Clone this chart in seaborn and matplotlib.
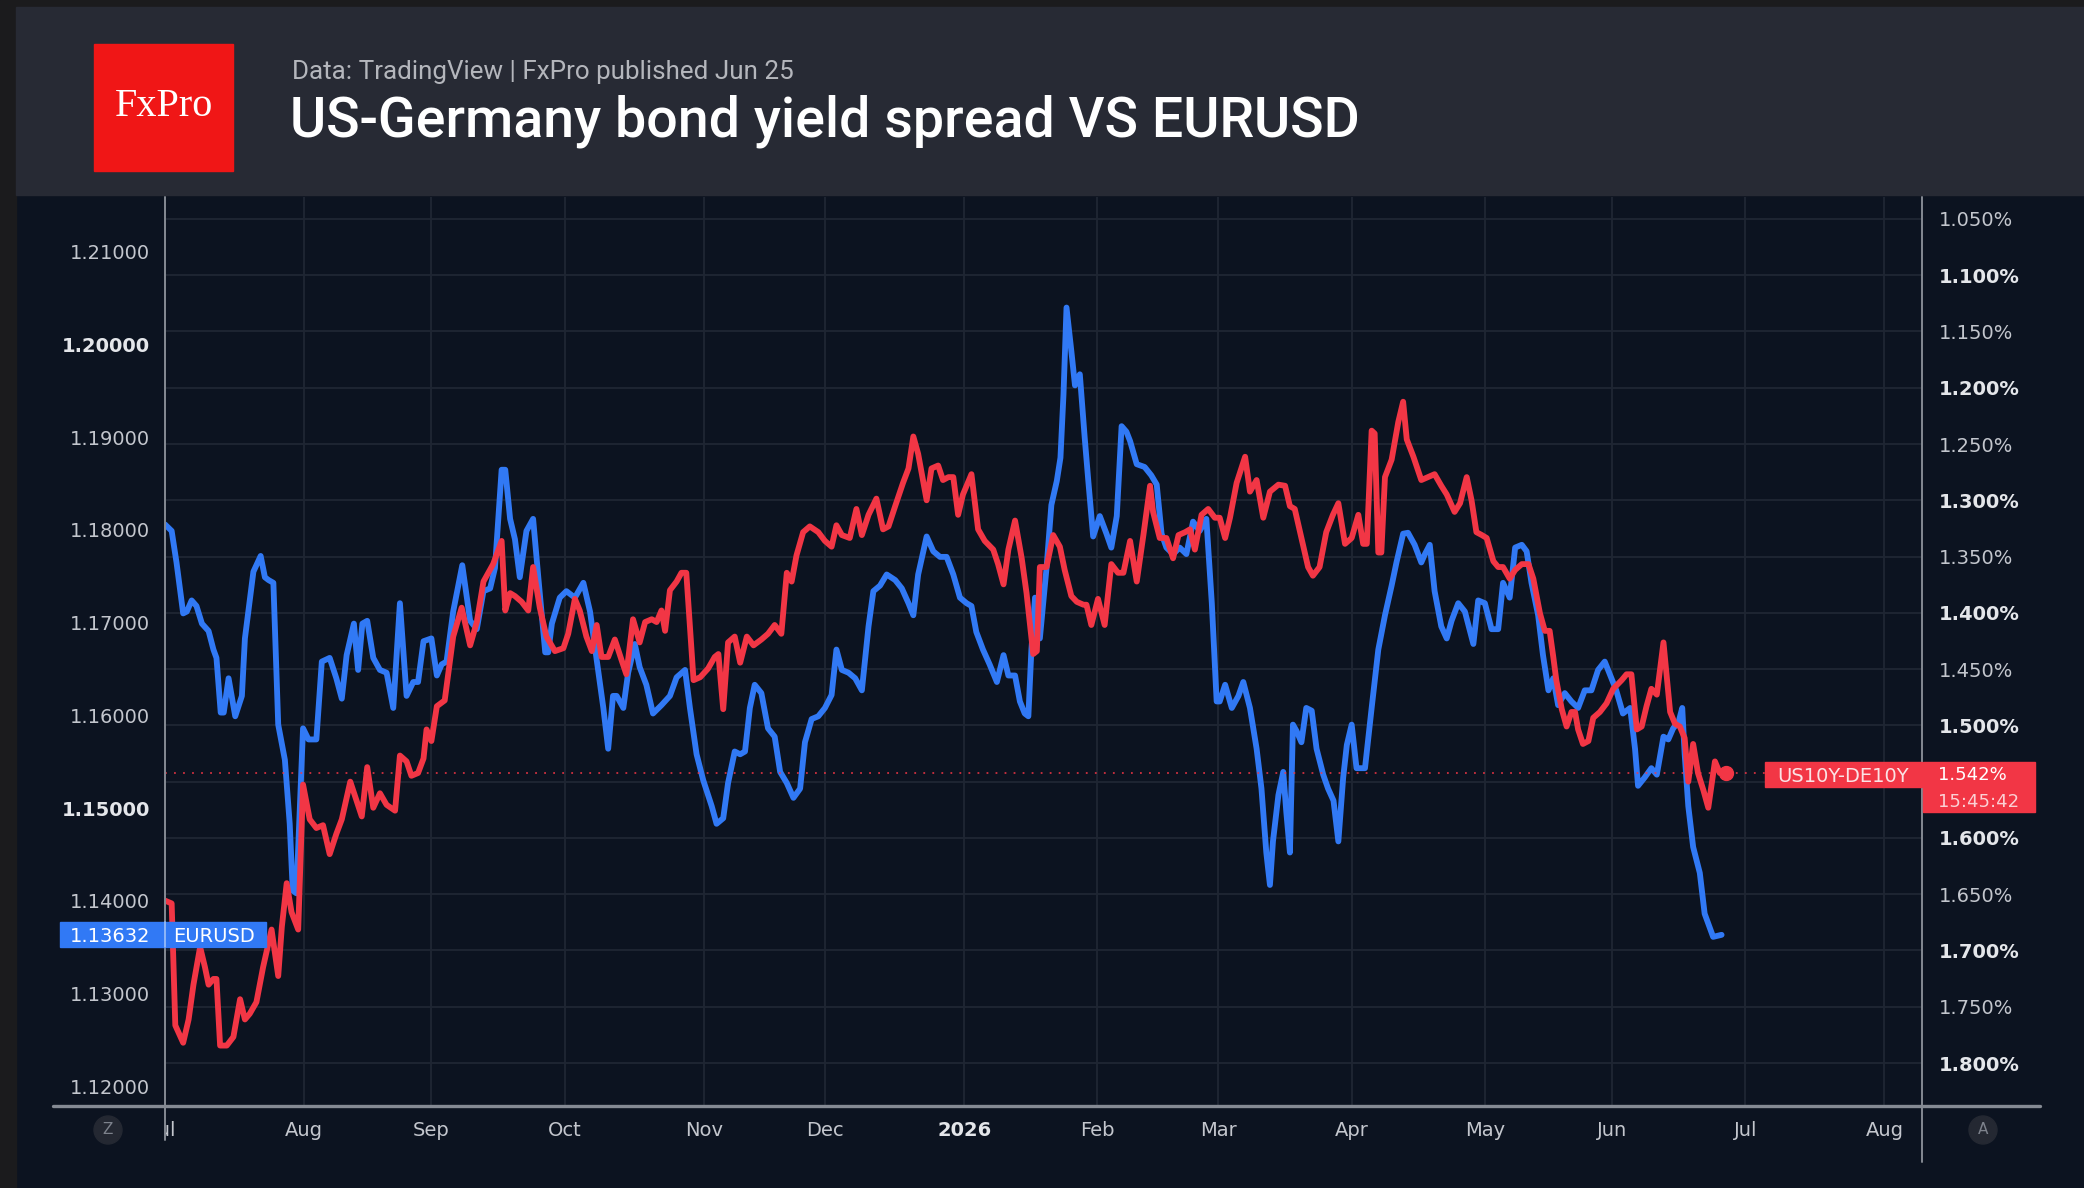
import numpy as np
import matplotlib
matplotlib.use("Agg")
import matplotlib.pyplot as plt
import seaborn as sns
from matplotlib.patches import Rectangle, Ellipse
from matplotlib.lines import Line2D
from matplotlib.transforms import Bbox, blended_transform_factory

# x = trading days counted from 1 Jul 2025
eur_day = [0.0, 1.1, 1.9, 3.0, 3.6, 4.4, 5.2, 6.1, 7.2, 8.0, 8.5, 9.2, 9.7, 10.5, 11.6, 12.7, 13.2,
           14.6, 15.8, 16.5, 17.1, 17.9, 18.7, 19.8, 20.6, 21.1, 21.7, 22.8, 23.7, 25.0, 25.9, 27.2,
           28.3, 29.2, 30.0, 31.2, 31.9, 32.6, 33.4, 34.4, 35.5, 36.6, 37.7, 38.8, 39.9, 41.0, 41.8,
           42.7, 44.0, 44.9, 45.7, 46.5, 47.6, 49.1, 50.4, 51.5, 52.6, 53.7, 54.5, 55.6, 56.2, 57.0,
           57.8, 58.6, 59.7, 60.8, 61.7, 62.8, 63.3, 63.9, 65.2, 66.3, 67.7, 69.1, 70.2, 71.6, 72.4,
           73.2, 74.0, 74.6, 75.7, 76.5, 77.6, 78.4, 79.5, 80.6, 82.0, 83.4, 84.5, 85.9, 86.7, 87.8,
           88.9, 90.3, 91.1, 92.2, 93.0, 94.1, 95.0, 95.8, 96.6, 97.4, 98.5, 99.6, 100.7, 101.6,
           102.7, 103.8, 104.9, 105.7, 106.8, 107.9, 109.0, 110.1, 110.9, 111.8, 112.9, 114.0,
           115.1, 116.2, 117.0, 118.1, 119.2, 120.6, 121.7, 122.8, 123.6, 124.4, 125.8, 126.9,
           128.0, 129.1, 130.2, 131.3, 132.4, 133.2, 134.0, 135.1, 136.2, 137.4, 138.5, 139.3,
           140.4, 141.2, 142.0, 142.6, 143.1, 143.7, 144.5, 145.6, 146.4, 147.3, 147.9, 148.4,
           148.9, 149.7, 150.3, 151.1, 151.9, 152.5, 153.3, 154.4, 155.5, 156.3, 157.2, 158.0,
           158.8, 159.4, 160.5, 161.8, 162.9, 163.8, 164.6, 165.4, 166.5, 167.6, 168.7, 169.8,
           170.9, 172.0, 172.9, 173.7, 174.2, 175.1, 176.2, 177.3, 178.1, 179.2, 180.3, 181.1,
           181.9, 182.5, 183.0, 183.9, 184.7, 185.2, 185.8, 186.3, 186.9, 187.7, 188.5, 189.4,
           190.2, 191.3, 192.1, 193.0, 193.8, 194.6, 195.2, 196.0, 196.8, 198.2, 199.3, 200.4,
           201.5, 202.6, 203.4, 204.5, 205.3, 206.4, 207.5, 208.1, 208.9, 209.7, 210.8, 211.7,
           212.5, 213.6, 214.7, 216.1, 216.9, 218.0, 219.1, 220.2, 221.0, 222.1, 223.0, 224.1,
           224.9, 225.7, 226.8, 227.6, 228.5, 229.3, 230.1, 231.2, 232.3, 233.4, 234.5, 235.6,
           236.7, 237.8, 238.9, 239.7, 240.8, 242.0, 242.8, 243.3, 244.4, 245.5, 246.4, 247.5,
           248.3, 249.1, 250.0, 250.6, 251.0, 251.6, 252.4, 253.5, 254.3, 255.7, 257.1]
eur_val = [1.1806, 1.1799, 1.1765, 1.1710, 1.1712, 1.1724, 1.1718, 1.1699, 1.1691, 1.1671, 1.1662,
           1.1603, 1.1603, 1.1640, 1.1599, 1.1621, 1.1683, 1.1755, 1.1772, 1.1749, 1.1746, 1.1743,
           1.1590, 1.1552, 1.1483, 1.1411, 1.1408, 1.1586, 1.1574, 1.1574, 1.1658, 1.1662, 1.1640,
           1.1618, 1.1665, 1.1699, 1.1649, 1.1699, 1.1702, 1.1662, 1.1649, 1.1646, 1.1608, 1.1721,
           1.1621, 1.1636, 1.1636, 1.1680, 1.1683, 1.1643, 1.1655, 1.1658, 1.1712, 1.1762, 1.1702,
           1.1693, 1.1734, 1.1737, 1.1759, 1.1865, 1.1865, 1.1812, 1.1790, 1.1749, 1.1799, 1.1812,
           1.1746, 1.1668, 1.1668, 1.1699, 1.1727, 1.1734, 1.1727, 1.1743, 1.1712, 1.1646, 1.1608,
           1.1564, 1.1621, 1.1621, 1.1608, 1.1646, 1.1677, 1.1652, 1.1633, 1.1602, 1.1611, 1.1621,
           1.1641, 1.1649, 1.1608, 1.1558, 1.1530, 1.1502, 1.1483, 1.1489, 1.1527, 1.1561, 1.1558,
           1.1561, 1.1608, 1.1633, 1.1624, 1.1586, 1.1577, 1.1539, 1.1527, 1.1511, 1.1521, 1.1571,
           1.1596, 1.1599, 1.1608, 1.1622, 1.1671, 1.1649, 1.1646, 1.1640, 1.1627, 1.1696, 1.1734,
           1.1740, 1.1752, 1.1746, 1.1737, 1.1721, 1.1708, 1.1752, 1.1793, 1.1777, 1.1771, 1.1771,
           1.1752, 1.1727, 1.1721, 1.1718, 1.1690, 1.1671, 1.1655, 1.1636, 1.1665, 1.1643, 1.1643,
           1.1615, 1.1602, 1.1599, 1.1671, 1.1727, 1.1683, 1.1759, 1.1827, 1.1853, 1.1878, 1.1946,
           1.2040, 1.1993, 1.1956, 1.1968, 1.1900, 1.1853, 1.1793, 1.1815, 1.1796, 1.1781, 1.1815,
           1.1912, 1.1906, 1.1896, 1.1871, 1.1868, 1.1859, 1.1849, 1.1796, 1.1781, 1.1774, 1.1781,
           1.1774, 1.1809, 1.1799, 1.1812, 1.1721, 1.1615, 1.1615, 1.1633, 1.1608, 1.1621, 1.1636,
           1.1608, 1.1564, 1.1521, 1.1452, 1.1417, 1.1464, 1.1514, 1.1539, 1.1496, 1.1452, 1.1590,
           1.1583, 1.1571, 1.1608, 1.1605, 1.1564, 1.1536, 1.1521, 1.1508, 1.1464, 1.1533, 1.1568,
           1.1590, 1.1543, 1.1543, 1.1608, 1.1671, 1.1708, 1.1740, 1.1765, 1.1796, 1.1797, 1.1784,
           1.1765, 1.1774, 1.1784, 1.1734, 1.1696, 1.1683, 1.1702, 1.1721, 1.1712, 1.1677, 1.1724,
           1.1721, 1.1693, 1.1693, 1.1743, 1.1727, 1.1781, 1.1784, 1.1777, 1.1743, 1.1708, 1.1665,
           1.1627, 1.1640, 1.1611, 1.1624, 1.1615, 1.1608, 1.1627, 1.1627, 1.1649, 1.1658, 1.1640,
           1.1627, 1.1602, 1.1608, 1.1564, 1.1524, 1.1533, 1.1543, 1.1536, 1.1577, 1.1574, 1.1586,
           1.1593, 1.1608, 1.1558, 1.1502, 1.1458, 1.1430, 1.1386, 1.1361, 1.13632]

spr_day = [0.0, 1.1, 1.7, 3.0, 3.9, 4.7, 5.8, 6.6, 7.2, 8.0, 8.5, 9.1, 10.2, 11.3, 12.4, 13.2, 14.0,
           15.1, 16.2, 17.6, 18.7, 19.3, 20.1, 20.9, 22.0, 22.8, 23.9, 25.0, 26.1, 27.2, 28.3, 29.2,
           30.6, 31.7, 32.5, 33.4, 34.4, 35.5, 36.6, 38.0, 38.8, 39.9, 40.7, 41.8, 42.7, 43.2, 44.0,
           44.9, 46.2, 47.6, 49.0, 50.4, 51.5, 52.6, 54.2, 55.6, 56.2, 57.0, 57.8, 58.9, 60.0, 60.8,
           61.9, 63.0, 64.4, 65.8, 66.6, 67.7, 68.5, 69.6, 70.5, 71.3, 72.1, 73.2, 74.3, 75.4, 76.2,
           77.3, 78.4, 79.3, 80.4, 81.2, 82.0, 82.6, 83.4, 84.5, 85.3, 86.1, 87.3, 88.4, 89.7, 90.8,
           91.4, 92.2, 93.0, 94.1, 95.0, 96.1, 97.2, 98.5, 99.6, 100.7, 101.8, 102.7, 103.5, 104.3,
           105.4, 106.5, 107.9, 109.0, 110.1, 110.9, 111.8, 113.1, 114.2, 115.1, 116.2, 117.5,
           118.6, 119.5, 120.6, 121.9, 122.8, 123.6, 124.4, 125.8, 126.6, 127.7, 128.5, 129.4,
           130.2, 131.0, 131.8, 133.2, 134.3, 135.4, 136.8, 137.6, 138.5, 139.3, 140.4, 141.5,
           142.3, 143.4, 144.0, 144.5, 145.6, 146.7, 147.8, 148.6, 149.7, 150.6, 151.7, 152.2,
           153.0, 154.1, 155.2, 156.3, 157.4, 158.3, 159.4, 160.5, 161.6, 162.7, 163.2, 164.3,
           165.4, 166.5, 167.4, 168.5, 169.3, 170.1, 171.2, 172.3, 173.4, 174.2, 175.1, 175.9,
           177.0, 178.4, 179.2, 180.3, 181.4, 182.5, 183.9, 185.0, 185.8, 186.6, 187.7, 188.8,
           189.6, 190.7, 191.8, 192.9, 193.8, 194.9, 196.0, 197.1, 197.9, 198.5, 199.3, 199.8,
           200.4, 200.9, 201.5, 202.6, 203.7, 204.5, 205.1, 206.2, 207.5, 208.6, 209.7, 210.8,
           211.7, 213.0, 213.9, 215.0, 215.8, 216.6, 217.5, 218.3, 219.4, 220.2, 221.0, 222.1,
           223.0, 224.1, 225.2, 226.0, 227.1, 227.9, 228.7, 229.3, 229.8, 230.7, 231.5, 232.3,
           232.9, 233.4, 234.2, 235.1, 235.9, 237.0, 238.1, 239.2, 240.6, 241.4, 242.2, 243.1,
           243.9, 244.7, 245.5, 246.4, 247.5, 248.6, 249.4, 250.2, 251.0, 251.6, 252.4, 253.2,
           254.1, 254.9, 256.0, 256.8, 257.9]
spr_val = [1.6557, 1.6582, 1.7665, 1.7820, 1.7613, 1.7304, 1.6969, 1.7149, 1.7304, 1.7253, 1.7253,
           1.7845, 1.7845, 1.7768, 1.7433, 1.7613, 1.7562, 1.7459, 1.7149, 1.6814, 1.7227, 1.6789,
           1.6402, 1.6660, 1.6814, 1.5526, 1.5835, 1.5912, 1.5887, 1.6144, 1.5964, 1.5835, 1.5500,
           1.5680, 1.5809, 1.5371, 1.5732, 1.5603, 1.5706, 1.5758, 1.5268, 1.5320, 1.5448, 1.5423,
           1.5294, 1.5036, 1.5139, 1.4830, 1.4778, 1.4211, 1.3954, 1.4289, 1.4082, 1.3722, 1.3567,
           1.3361, 1.3979, 1.3825, 1.3851, 1.3902, 1.3979, 1.3593, 1.3954, 1.4211, 1.4340, 1.4314,
           1.4186, 1.3876, 1.3979, 1.4211, 1.4340, 1.4108, 1.4392, 1.4392, 1.4237, 1.4418, 1.4546,
           1.4057, 1.4263, 1.4082, 1.4057, 1.4082, 1.3979, 1.4160, 1.3799, 1.3722, 1.3644, 1.3644,
           1.4598, 1.4572, 1.4495, 1.4392, 1.4366, 1.4856, 1.4263, 1.4211, 1.4443, 1.4211, 1.4289,
           1.4237, 1.4186, 1.4108, 1.4186, 1.3644, 1.3722, 1.3490, 1.3283, 1.3232, 1.3283, 1.3361,
           1.3412, 1.3222, 1.3309, 1.3335, 1.3077, 1.3309, 1.3129, 1.2985, 1.3258, 1.3232, 1.3052,
           1.2845, 1.2717, 1.2433, 1.2588, 1.3000, 1.2717, 1.2691, 1.2820, 1.2794, 1.2794, 1.3129,
           1.2948, 1.2768, 1.3258, 1.3361, 1.3438, 1.3567, 1.3747, 1.3438, 1.3180, 1.3515, 1.3825,
           1.4366, 1.4340, 1.3593, 1.3593, 1.3309, 1.3412, 1.3619, 1.3851, 1.3902, 1.3928, 1.3928,
           1.4108, 1.3876, 1.4108, 1.3567, 1.3644, 1.3644, 1.3361, 1.3722, 1.3309, 1.2871, 1.3103,
           1.3335, 1.3335, 1.3515, 1.3309, 1.3283, 1.3258, 1.3438, 1.3129, 1.3077, 1.3155, 1.3155,
           1.3335, 1.3155, 1.2845, 1.2613, 1.2923, 1.2820, 1.3155, 1.2923, 1.2861, 1.2871, 1.3052,
           1.3077, 1.3335, 1.3593, 1.3670, 1.3593, 1.3283, 1.3129, 1.3026, 1.3387, 1.3335, 1.3129,
           1.3387, 1.3387, 1.2381, 1.2407, 1.3464, 1.3464, 1.2794, 1.2639, 1.2304, 1.2124, 1.2459,
           1.2613, 1.2820, 1.2794, 1.2768, 1.2871, 1.2948, 1.3103, 1.3026, 1.2794, 1.3000, 1.3283,
           1.3309, 1.3335, 1.3541, 1.3593, 1.3593, 1.3696, 1.3619, 1.3567, 1.3567, 1.3696, 1.4005,
           1.4160, 1.4160, 1.4392, 1.4598, 1.4856, 1.5010, 1.4881, 1.4881, 1.5036, 1.5165, 1.5139,
           1.4933, 1.4881, 1.4804, 1.4675, 1.4598, 1.4546, 1.4546, 1.5036, 1.5010, 1.4830, 1.4675,
           1.4727, 1.4263, 1.4881, 1.4985, 1.5010, 1.5113, 1.5500, 1.5165, 1.5423, 1.5577, 1.5732,
           1.5320, 1.5423, 1.542]

month_starts = ["2025-07-01", "2025-08-01", "2025-09-01", "2025-10-01", "2025-11-01", "2025-12-01",
                "2026-01-01", "2026-02-01", "2026-03-01", "2026-04-01", "2026-05-01", "2026-06-01",
                "2026-07-01", "2026-08-01"]
month_labels = ["Jul", "Aug", "Sep", "Oct", "Nov", "Dec", "2026", "Feb", "Mar", "Apr", "May", "Jun",
                "Jul", "Aug"]
eur_ticks = [1.12, 1.13, 1.14, 1.15, 1.16, 1.17, 1.18, 1.19, 1.20, 1.21]
spr_ticks = [1.05, 1.10, 1.15, 1.20, 1.25, 1.30, 1.35, 1.40, 1.45, 1.50, 1.55, 1.60, 1.65, 1.70,
             1.75, 1.80]
last_eur = 1.13632
last_spr = 1.542
last_time = "15:45:42"

BG = "#0c1320"
HEAD = "#272a34"
EDGE = "#1b1b1d"
BLUE = "#3179f5"
RED = "#f23645"
GRID = "#1f2633"
TXT = "#c3c6cd"
AXL = "#858a93"

sns.set_theme(style="dark", rc={"axes.facecolor": BG, "figure.facecolor": BG})
plt.rcParams["font.family"] = ["DejaVu Sans"]

W, H = 2084, 1188
fig = plt.figure(figsize=(W / 100, H / 100), dpi=100)


def fx(px):
    return px / W


def fy(py):
    return 1 - py / H


# frame and header
fig.add_artist(Rectangle((0, 0), fx(16), 1, transform=fig.transFigure, color=EDGE, zorder=0))
fig.add_artist(Rectangle((0, fy(7)), 1, 7 / H, transform=fig.transFigure, color=EDGE, zorder=0))
fig.add_artist(Rectangle((fx(16), fy(195)), 1 - fx(16), 188 / H, transform=fig.transFigure,
                         color=HEAD, zorder=0))
fig.add_artist(Rectangle((fx(94), fy(171)), fx(139), 127 / H, transform=fig.transFigure,
                         color="#f01616", zorder=1))
fig.text(fx(164), fy(106), "FxPro", ha="center", va="center", color="white", fontsize=29,
         family="Liberation Serif")
fig.text(fx(292), fy(72), "Data: TradingView | FxPro published Jun 25", ha="left", va="center",
         color="#b4b6bc", fontsize=18.7, family="Roboto")
fig.text(fx(290), fy(121), "US-Germany bond yield spread VS EURUSD", ha="left", va="center",
         color="white", fontsize=40, family="Roboto", fontweight="medium")

ax = fig.add_axes([fx(165), 1 - 1106 / H, fx(1922 - 165), (1106 - 197) / H])
ax.set_facecolor(BG)
sns.lineplot(x=eur_day, y=eur_val, ax=ax, color=BLUE, linewidth=4.2, estimator=None, sort=False,
             solid_joinstyle="round", solid_capstyle="round", zorder=3)
ax2 = ax.twinx()
sns.lineplot(x=spr_day, y=spr_val, ax=ax2, color=RED, linewidth=4.2, estimator=None, sort=False,
             solid_joinstyle="round", solid_capstyle="round", zorder=3)
ax2.plot(spr_day[-1], spr_val[-1], "o", color=RED, ms=10, zorder=4)
ax2.axhline(last_spr, color=RED, lw=1.3, ls=(0, (1, 4)), alpha=0.85, zorder=1)

ax.set_xlim(0, 290.2)
ax.set_ylim(1.11785, 1.21593)
ax2.set_ylim(1.8382, 1.0305)

month_pos = [int(np.busday_count("2025-07-01", d)) for d in month_starts]
ax.set_xticks(month_pos, month_labels)
ax.set_yticks(eur_ticks, [f"{v:.5f}" for v in eur_ticks])
# the price box hides the tick label right next to the last value
ax2.set_yticks(spr_ticks, ["" if abs(v - last_spr) < 0.02 else f"{v:.3f}%" for v in spr_ticks])
ax.set_xlabel("")
ax.set_ylabel("")
ax2.set_ylabel("")

ax.tick_params(axis="x", length=0, pad=10.5, labelsize=14, labelcolor=TXT)
ax.tick_params(axis="y", length=0, pad=11, labelsize=14, labelcolor=TXT)
ax2.tick_params(axis="y", length=0, pad=12, labelsize=14, labelcolor=TXT)

for lbl, v in zip(ax.get_yticklabels(), eur_ticks):
    if round(v * 100) % 5 == 0:
        lbl.set_fontweight("bold")
        lbl.set_color("#e4e6ea")
for lbl, v in zip(ax2.get_yticklabels(), spr_ticks):
    if round(v * 100) % 10 == 0:
        lbl.set_fontweight("bold")
        lbl.set_color("#e4e6ea")
for lbl in ax.get_xticklabels():
    if lbl.get_text() == "2026":
        lbl.set_fontweight("bold")
        lbl.set_color("#e4e6ea")
first = ax.get_xticklabels()[0]
first.set_clip_box(Bbox([[165, 0], [W, H]]))
first.set_clip_on(True)

# grid: verticals at months, horizontals at the spread ticks
ax.grid(axis="x", color=GRID, lw=1.3)
ax.grid(axis="y", visible=False)
ax2.grid(False)
hl = blended_transform_factory(ax.transAxes, ax2.transData)
for s in spr_ticks:
    ax.add_line(Line2D([0, 1], [s, s], transform=hl, color=GRID, lw=1.3, zorder=0.5))
for sp in list(ax.spines.values()) + list(ax2.spines.values()):
    sp.set_visible(False)

# axis frame lines
fig.add_artist(Line2D([fx(53), fx(2040)], [fy(1106), fy(1106)], transform=fig.transFigure,
                      color=AXL, lw=2.4))
fig.add_artist(Line2D([fx(165), fx(165)], [fy(197), fy(1140)], transform=fig.transFigure,
                      color=AXL, lw=1.4))
fig.add_artist(Line2D([fx(1922), fx(1922)], [fy(197), fy(1162)], transform=fig.transFigure,
                      color=AXL, lw=1.4))
for cx, ch in [(108, "Z"), (1983, "A")]:
    fig.add_artist(Ellipse((fx(cx), fy(1130)), 28 / W, 28 / H, transform=fig.transFigure,
                           color="#242832", zorder=2))
    fig.text(fx(cx), fy(1130), ch, ha="center", va="center", color="#7d828c", fontsize=11)


def fig_y(axis, v):
    return fig.transFigure.inverted().transform(axis.transData.transform((0, v)))[1]


yb = fig_y(ax, last_eur)
fig.add_artist(Rectangle((fx(60), yb - 12.5 / H), fx(206), 25 / H, transform=fig.transFigure,
                         color=BLUE, zorder=6))
fig.add_artist(Line2D([fx(165), fx(165)], [yb - 12.5 / H, yb + 12.5 / H],
                      transform=fig.transFigure, color="#9fc0f8", lw=1.2, zorder=7))
fig.text(fx(150), yb, f"{last_eur:.5f}", ha="right", va="center_baseline", color="white",
         fontsize=14, zorder=8)
fig.text(fx(173), yb, "EURUSD", ha="left", va="center_baseline", color="white", fontsize=14,
         zorder=8)

yr = fig_y(ax2, last_spr)
fig.add_artist(Rectangle((fx(1765), yr - 14 / H), fx(157), 25 / H, transform=fig.transFigure,
                         color=RED, zorder=6))
fig.add_artist(Rectangle((fx(1923), yr - 39 / H), fx(112), 50 / H, transform=fig.transFigure,
                         color=RED, zorder=6))
fig.text(fx(1843), yr - 1.5 / H, "US10Y-DE10Y", ha="center", va="center_baseline",
         color="#fbe3e5", fontsize=14, zorder=8)
fig.text(fx(1938), yr, f"{last_spr:.3f}%", ha="left", va="center_baseline",
         color="white", fontsize=13, zorder=8)
fig.text(fx(1938), yr - 27 / H, last_time, ha="left", va="center_baseline",
         color="#fbd0d4", fontsize=13, zorder=8)

fig.savefig("out.png", dpi=100, facecolor=BG)
